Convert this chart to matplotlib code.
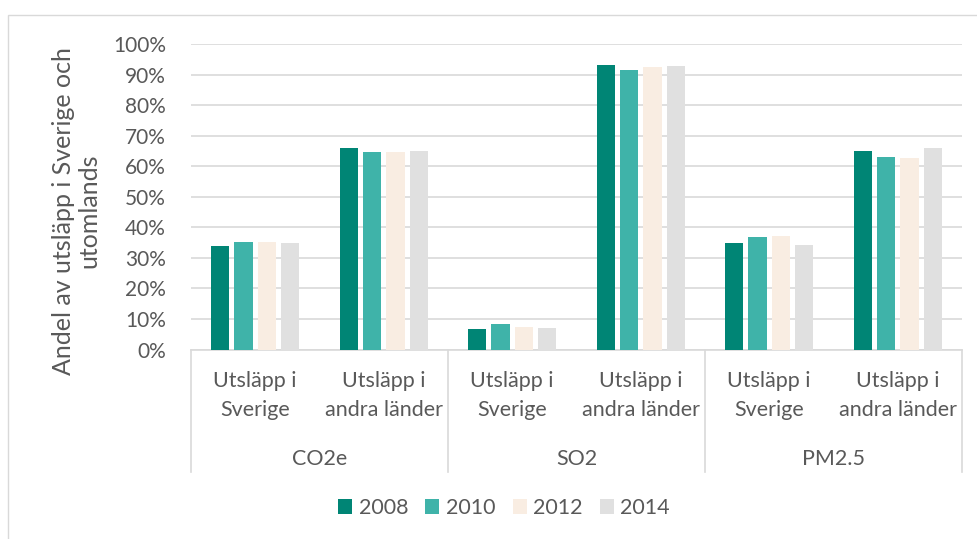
import matplotlib.pyplot as plt
from matplotlib.patches import Rectangle
from matplotlib.transforms import blended_transform_factory
import numpy as np

plt.rcParams['font.family'] = ['Lato', 'DejaVu Sans']

groups = ['CO2e', 'SO2', 'PM2.5']
subcats = ['Utsläpp i\nSverige', 'Utsläpp i\nandra länder']
years = ['2008', '2010', '2012', '2014']
colors = ['#008575', '#3fb3a9', '#f9ede2', '#e0e0e0']

# andel i procent, ordning: CO2e Sverige, CO2e andra, SO2 Sverige, SO2 andra, PM2.5 Sverige, PM2.5 andra
v2008 = [34.0, 66.0, 6.7, 93.3, 35.0, 65.0]
v2010 = [35.3, 64.7, 8.4, 91.6, 37.0, 63.0]
v2012 = [35.2, 64.8, 7.3, 92.7, 37.3, 62.7]
v2014 = [34.8, 65.2, 7.1, 92.9, 34.1, 65.9]
series = [v2008, v2010, v2012, v2014]

txt = '#595959'
grid = '#d9d9d9'
W, H = 978, 539

fig = plt.figure(figsize=(W / 100, H / 100), dpi=100)
ax = fig.add_axes([191 / W, 1 - 349.5 / H, (962 - 191) / W, (349.5 - 44.3) / H])

x = np.arange(len(groups) * len(subcats))
pitch = 0.181
bw = 0.142
for i, (vals, c, y) in enumerate(zip(series, colors, years)):
    ax.bar(x + (i - 1.5) * pitch, np.array(vals) / 100, width=bw, color=c, label=y, zorder=3)

ax.set_xlim(-0.5, len(x) - 0.5)
ax.set_ylim(0, 1)
ax.set_yticks(np.arange(0, 1.01, 0.1))
ax.set_yticklabels([f'{int(round(t * 100))}%' for t in np.arange(0, 1.01, 0.1)])
ax.tick_params(axis='y', length=0, pad=18, labelsize=15, labelcolor=txt)
ax.set_xticks([])
ax.yaxis.grid(True, color=grid, lw=1.2, zorder=0)
for s in ['top', 'right', 'left']:
    ax.spines[s].set_visible(False)
ax.spines['bottom'].set_color(grid)
ax.spines['bottom'].set_linewidth(1.2)

tr = blended_transform_factory(ax.transData, ax.transAxes)
for k in range(len(groups) + 1):
    xs = k * len(subcats) - 0.5
    ax.plot([xs, xs], [0, -0.4], color=grid, lw=1.2, transform=tr, clip_on=False)
for j in range(len(x)):
    ax.text(x[j], -0.151, subcats[j % 2], transform=tr, ha='center', va='center',
            fontsize=15.5, color=txt, linespacing=1.55)
for g, name in enumerate(groups):
    ax.text(g * 2 + 0.5, -0.36, name, transform=tr, ha='center', va='center',
            fontsize=15.5, color=txt)

fig.text(76 / W, 1 - 211 / H, 'Andel av utsläpp i Sverige och\nutomlands', rotation=90,
         ha='center', va='center', multialignment='center', fontsize=18, color=txt,
         linespacing=1.1)

ax.legend(loc='center', bbox_to_anchor=(504 / W, 1 - 508 / H), bbox_transform=fig.transFigure,
          ncol=4, frameon=False, fontsize=15.5, labelcolor=txt, handlelength=0.65,
          handleheight=0.65, handletextpad=0.3, columnspacing=0.8)

fig.patches.append(Rectangle((8 / W, -0.1), 1.2, 1.1 - 15 / H, transform=fig.transFigure,
                             fill=False, edgecolor=grid, lw=1))

fig.savefig('out.png', dpi=100)
